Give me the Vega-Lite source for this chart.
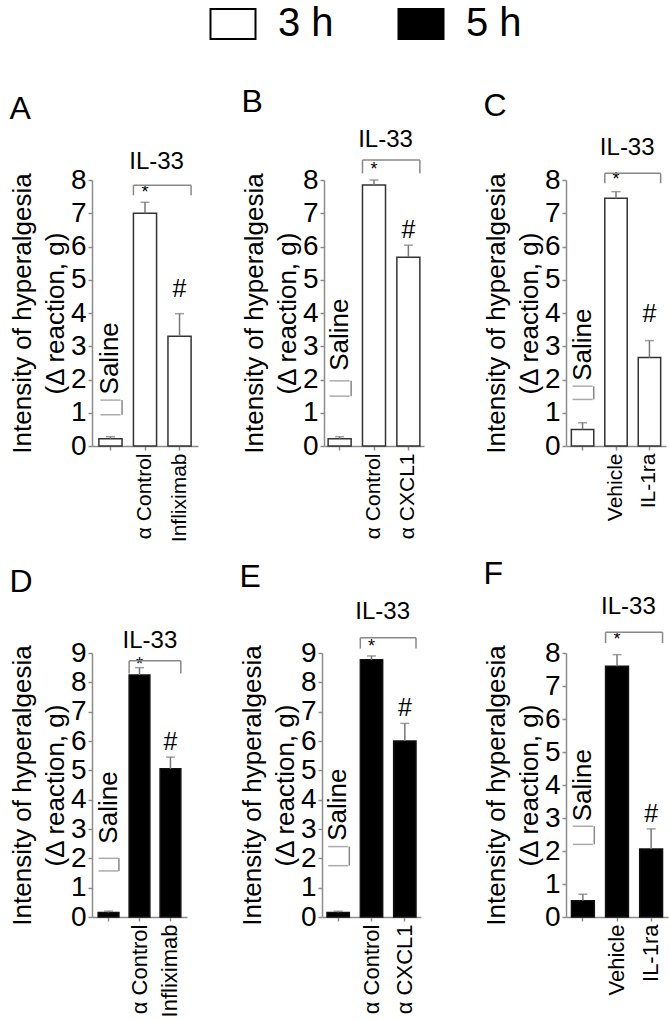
{
"$schema": "https://vega.github.io/schema/vega-lite/v6.json",
"padding": {"left": 9, "top": 4, "right": 5, "bottom": 5},
"datasets": {
"bars": [
{"panel": "A", "time": "3 h", "group": "Saline", "mean": 0.22, "upper": 0.28},
{"panel": "A", "time": "3 h", "group": "α Control", "mean": 7.0, "upper": 7.33},
{"panel": "A", "time": "3 h", "group": "Infliximab", "mean": 3.3, "upper": 3.98},
{"panel": "B", "time": "3 h", "group": "Saline", "mean": 0.22, "upper": 0.28},
{"panel": "B", "time": "3 h", "group": "α Control", "mean": 7.85, "upper": 8.0},
{"panel": "B", "time": "3 h", "group": "α CXCL1", "mean": 5.68, "upper": 6.04},
{"panel": "C", "time": "3 h", "group": "Saline", "mean": 0.5, "upper": 0.7},
{"panel": "C", "time": "3 h", "group": "Vehicle", "mean": 7.45, "upper": 7.65},
{"panel": "C", "time": "3 h", "group": "IL-1ra", "mean": 2.66, "upper": 3.17},
{"panel": "D", "time": "5 h", "group": "Saline", "mean": 0.15, "upper": 0.2},
{"panel": "D", "time": "5 h", "group": "α Control", "mean": 8.25, "upper": 8.5},
{"panel": "D", "time": "5 h", "group": "Infliximab", "mean": 5.05, "upper": 5.45},
{"panel": "E", "time": "5 h", "group": "Saline", "mean": 0.15, "upper": 0.2},
{"panel": "E", "time": "5 h", "group": "α Control", "mean": 8.77, "upper": 8.9},
{"panel": "E", "time": "5 h", "group": "α CXCL1", "mean": 6.0, "upper": 6.6},
{"panel": "F", "time": "5 h", "group": "Saline", "mean": 0.49, "upper": 0.69},
{"panel": "F", "time": "5 h", "group": "Vehicle", "mean": 7.6, "upper": 7.95},
{"panel": "F", "time": "5 h", "group": "IL-1ra", "mean": 2.06, "upper": 2.67}
],
"notes": [
{"panel": "A", "ctrl": "α Control", "trt": "Infliximab", "star": 7.6, "hash": 4.73, "top": 7.84, "bottom": 7.54, "label_y": 8.53},
{"panel": "B", "ctrl": "α Control", "trt": "α CXCL1", "star": 8.3, "hash": 6.5, "top": 8.6, "bottom": 8.2, "label_y": 9.2},
{"panel": "C", "ctrl": "Vehicle", "trt": "IL-1ra", "star": 8.0, "hash": 3.97, "top": 8.2, "bottom": 7.9, "label_y": 8.95},
{"panel": "D", "ctrl": "α Control", "trt": "Infliximab", "star": 8.6, "hash": 5.97, "top": 8.74, "bottom": 8.3, "label_y": 9.4},
{"panel": "E", "ctrl": "α Control", "trt": "α CXCL1", "star": 9.2, "hash": 7.12, "top": 9.52, "bottom": 9.15, "label_y": 10.4},
{"panel": "F", "ctrl": "Vehicle", "trt": "IL-1ra", "star": 8.4, "hash": 3.13, "top": 8.63, "bottom": 8.3, "label_y": 9.4}
],
"saline": [
{"panel": "A", "group": "Saline", "text_y": 1.55, "top": 1.38, "bottom": 0.94},
{"panel": "B", "group": "Saline", "text_y": 2.26, "top": 1.96, "bottom": 1.5},
{"panel": "C", "group": "Saline", "text_y": 1.96, "top": 1.8, "bottom": 1.4},
{"panel": "D", "group": "Saline", "text_y": 2.5, "top": 2.0, "bottom": 1.57},
{"panel": "E", "group": "Saline", "text_y": 2.6, "top": 2.4, "bottom": 1.75},
{"panel": "F", "group": "Saline", "text_y": 2.9, "top": 2.75, "bottom": 2.2}
]
},
"config": {
"font": "Liberation Sans",
"view": {"stroke": null},
"title": {"fontSize": 32, "fontWeight": "normal", "anchor": "start", "frame": "bounds", "color": "black"},
"axis": {"domainColor": "#8c8c8c", "domainWidth": 1.5, "tickColor": "#8c8c8c", "tickWidth": 1.5, "tickSize": 4, "labelColor": "black", "grid": false, "titleColor": "black"},
"axisY": {"labelFontSize": 28, "labelPadding": 2, "titleFontSize": 26, "titleFontWeight": "normal", "titleLineHeight": 33, "titlePadding": 2},
"axisX": {"labelAngle": 270, "labelFontSize": 22, "labelPadding": 3}
},
"spacing": 15,
"vconcat": [
{"spacing": 43, "hconcat": [
{"width": 106, "height": 266, "title": {"text": "A", "offset": 24}, "layer": [
{"data": {"name": "bars"}, "transform": [{"filter": "datum.panel == 'A'"}], "mark": {"type": "bar", "stroke": "#333", "strokeWidth": 1.5}, "encoding": {"x": {"field": "group", "type": "nominal", "scale": {"domain": ["Saline", "α Control", "Infliximab"], "paddingInner": 0.33, "paddingOuter": 0.2}, "axis": {"title": null, "labelFontSize": 21, "labelExpr": "datum.value == 'Saline' ? '' : datum.value"}}, "y": {"field": "mean", "type": "quantitative", "scale": {"domain": [0, 8], "nice": false}, "axis": {"title": ["Intensity of hyperalgesia", "(Δ reaction, g)"], "values": [0, 1, 2, 3, 4, 5, 6, 7, 8], "tickCount": 10, "labelOverlap": false}}, "fill": {"field": "time", "type": "nominal", "scale": {"domain": ["3 h", "5 h"], "range": ["white", "black"]}, "legend": {"title": null, "orient": "none", "direction": "horizontal", "legendX": 121, "legendY": -176, "symbolType": "M-1.5,-1L1.5,-1L1.5,1L-1.5,1Z", "symbolSize": 900, "symbolStrokeColor": "black", "symbolStrokeWidth": 2, "labelFontSize": 40, "labelOffset": 25, "columnPadding": 60, "labelColor": "black"}}}},
{"data": {"name": "bars"}, "transform": [{"filter": "datum.panel == 'A'"}], "mark": {"type": "rule", "color": "#777", "strokeWidth": 1.5}, "encoding": {"x": {"field": "group", "type": "nominal", "scale": {"domain": ["Saline", "α Control", "Infliximab"], "paddingInner": 0.33, "paddingOuter": 0.2}}, "y": {"field": "mean", "type": "quantitative", "scale": {"domain": [0, 8], "nice": false}}, "y2": {"field": "upper"}}},
{"data": {"name": "bars"}, "transform": [{"filter": "datum.panel == 'A'"}], "mark": {"type": "tick", "color": "#777", "thickness": 1.5, "size": 9}, "encoding": {"x": {"field": "group", "type": "nominal", "scale": {"domain": ["Saline", "α Control", "Infliximab"], "paddingInner": 0.33, "paddingOuter": 0.2}}, "y": {"field": "upper", "type": "quantitative", "scale": {"domain": [0, 8], "nice": false}}}},
{"data": {"name": "notes"}, "transform": [{"filter": "datum.panel == 'A'"}], "mark": {"type": "text", "fontSize": 18}, "encoding": {"x": {"field": "ctrl", "type": "nominal", "scale": {"domain": ["Saline", "α Control", "Infliximab"], "paddingInner": 0.33, "paddingOuter": 0.2}}, "y": {"field": "star", "type": "quantitative", "scale": {"domain": [0, 8], "nice": false}}, "text": {"value": "*"}}},
{"data": {"name": "notes"}, "transform": [{"filter": "datum.panel == 'A'"}], "mark": {"type": "text", "fontSize": 25}, "encoding": {"x": {"field": "trt", "type": "nominal", "scale": {"domain": ["Saline", "α Control", "Infliximab"], "paddingInner": 0.33, "paddingOuter": 0.2}}, "y": {"field": "hash", "type": "quantitative", "scale": {"domain": [0, 8], "nice": false}}, "text": {"value": "#"}}},
{"data": {"name": "notes"}, "transform": [{"filter": "datum.panel == 'A'"}], "mark": {"type": "text", "fontSize": 24}, "encoding": {"x": {"field": "ctrl", "type": "nominal", "bandPosition": 1, "scale": {"domain": ["Saline", "α Control", "Infliximab"], "paddingInner": 0.33, "paddingOuter": 0.2}}, "y": {"field": "label_y", "type": "quantitative", "scale": {"domain": [0, 8], "nice": false}}, "text": {"value": "IL-33"}}},
{"data": {"name": "notes"}, "transform": [{"filter": "datum.panel == 'A'"}], "mark": {"type": "rule", "color": "#888", "strokeWidth": 1.5}, "encoding": {"x": {"field": "ctrl", "type": "nominal", "bandPosition": 0, "scale": {"domain": ["Saline", "α Control", "Infliximab"], "paddingInner": 0.33, "paddingOuter": 0.2}}, "x2": {"field": "trt", "bandPosition": 1}, "y": {"field": "top", "type": "quantitative", "scale": {"domain": [0, 8], "nice": false}}}},
{"data": {"name": "notes"}, "transform": [{"filter": "datum.panel == 'A'"}], "mark": {"type": "rule", "color": "#888", "strokeWidth": 1.5}, "encoding": {"x": {"field": "ctrl", "type": "nominal", "bandPosition": 0, "scale": {"domain": ["Saline", "α Control", "Infliximab"], "paddingInner": 0.33, "paddingOuter": 0.2}}, "y": {"field": "top", "type": "quantitative", "scale": {"domain": [0, 8], "nice": false}}, "y2": {"field": "bottom"}}},
{"data": {"name": "notes"}, "transform": [{"filter": "datum.panel == 'A'"}], "mark": {"type": "rule", "color": "#888", "strokeWidth": 1.5}, "encoding": {"x": {"field": "trt", "type": "nominal", "bandPosition": 1, "scale": {"domain": ["Saline", "α Control", "Infliximab"], "paddingInner": 0.33, "paddingOuter": 0.2}}, "y": {"field": "top", "type": "quantitative", "scale": {"domain": [0, 8], "nice": false}}, "y2": {"field": "bottom"}}},
{"data": {"name": "saline"}, "transform": [{"filter": "datum.panel == 'A'"}], "mark": {"type": "text", "fontSize": 26, "angle": 270, "align": "left", "baseline": "middle"}, "encoding": {"x": {"field": "group", "type": "nominal", "scale": {"domain": ["Saline", "α Control", "Infliximab"], "paddingInner": 0.33, "paddingOuter": 0.2}}, "y": {"field": "text_y", "type": "quantitative", "scale": {"domain": [0, 8], "nice": false}}, "text": {"value": "Saline"}}},
{"data": {"name": "saline"}, "transform": [{"filter": "datum.panel == 'A'"}], "mark": {"type": "tick", "color": "#888", "thickness": 1.5, "size": 20}, "encoding": {"x": {"field": "group", "type": "nominal", "scale": {"domain": ["Saline", "α Control", "Infliximab"], "paddingInner": 0.33, "paddingOuter": 0.2}}, "y": {"field": "top", "type": "quantitative", "scale": {"domain": [0, 8], "nice": false}}}},
{"data": {"name": "saline"}, "transform": [{"filter": "datum.panel == 'A'"}], "mark": {"type": "tick", "color": "#888", "thickness": 1.5, "size": 20}, "encoding": {"x": {"field": "group", "type": "nominal", "scale": {"domain": ["Saline", "α Control", "Infliximab"], "paddingInner": 0.33, "paddingOuter": 0.2}}, "y": {"field": "bottom", "type": "quantitative", "scale": {"domain": [0, 8], "nice": false}}}},
{"data": {"name": "saline"}, "transform": [{"filter": "datum.panel == 'A'"}], "mark": {"type": "rule", "color": "#888", "strokeWidth": 1.5}, "encoding": {"x": {"field": "group", "type": "nominal", "bandPosition": 1, "scale": {"domain": ["Saline", "α Control", "Infliximab"], "paddingInner": 0.33, "paddingOuter": 0.2}}, "y": {"field": "top", "type": "quantitative", "scale": {"domain": [0, 8], "nice": false}}, "y2": {"field": "bottom"}}}
]},
{"spacing": 59, "hconcat": [
{"width": 100, "height": 266, "title": {"text": "B", "offset": 9}, "layer": [
{"data": {"name": "bars"}, "transform": [{"filter": "datum.panel == 'B'"}], "mark": {"type": "bar", "stroke": "#333", "strokeWidth": 1.5}, "encoding": {"x": {"field": "group", "type": "nominal", "scale": {"domain": ["Saline", "α Control", "α CXCL1"], "paddingInner": 0.33, "paddingOuter": 0.12}, "axis": {"title": null, "labelFontSize": 21, "labelExpr": "datum.value == 'Saline' ? '' : datum.value"}}, "y": {"field": "mean", "type": "quantitative", "scale": {"domain": [0, 8], "nice": false}, "axis": {"title": ["Intensity of hyperalgesia", "(Δ reaction, g)"], "values": [0, 1, 2, 3, 4, 5, 6, 7, 8], "tickCount": 10, "labelOverlap": false}}, "fill": {"field": "time", "type": "nominal", "scale": {"domain": ["3 h", "5 h"], "range": ["white", "black"]}, "legend": {"title": null, "orient": "none", "direction": "horizontal", "legendX": 121, "legendY": -176, "symbolType": "M-1.5,-1L1.5,-1L1.5,1L-1.5,1Z", "symbolSize": 900, "symbolStrokeColor": "black", "symbolStrokeWidth": 2, "labelFontSize": 40, "labelOffset": 25, "columnPadding": 60, "labelColor": "black"}}}},
{"data": {"name": "bars"}, "transform": [{"filter": "datum.panel == 'B'"}], "mark": {"type": "rule", "color": "#777", "strokeWidth": 1.5}, "encoding": {"x": {"field": "group", "type": "nominal", "scale": {"domain": ["Saline", "α Control", "α CXCL1"], "paddingInner": 0.33, "paddingOuter": 0.12}}, "y": {"field": "mean", "type": "quantitative", "scale": {"domain": [0, 8], "nice": false}}, "y2": {"field": "upper"}}},
{"data": {"name": "bars"}, "transform": [{"filter": "datum.panel == 'B'"}], "mark": {"type": "tick", "color": "#777", "thickness": 1.5, "size": 9}, "encoding": {"x": {"field": "group", "type": "nominal", "scale": {"domain": ["Saline", "α Control", "α CXCL1"], "paddingInner": 0.33, "paddingOuter": 0.12}}, "y": {"field": "upper", "type": "quantitative", "scale": {"domain": [0, 8], "nice": false}}}},
{"data": {"name": "notes"}, "transform": [{"filter": "datum.panel == 'B'"}], "mark": {"type": "text", "fontSize": 18}, "encoding": {"x": {"field": "ctrl", "type": "nominal", "scale": {"domain": ["Saline", "α Control", "α CXCL1"], "paddingInner": 0.33, "paddingOuter": 0.12}}, "y": {"field": "star", "type": "quantitative", "scale": {"domain": [0, 8], "nice": false}}, "text": {"value": "*"}}},
{"data": {"name": "notes"}, "transform": [{"filter": "datum.panel == 'B'"}], "mark": {"type": "text", "fontSize": 25}, "encoding": {"x": {"field": "trt", "type": "nominal", "scale": {"domain": ["Saline", "α Control", "α CXCL1"], "paddingInner": 0.33, "paddingOuter": 0.12}}, "y": {"field": "hash", "type": "quantitative", "scale": {"domain": [0, 8], "nice": false}}, "text": {"value": "#"}}},
{"data": {"name": "notes"}, "transform": [{"filter": "datum.panel == 'B'"}], "mark": {"type": "text", "fontSize": 24}, "encoding": {"x": {"field": "ctrl", "type": "nominal", "bandPosition": 1, "scale": {"domain": ["Saline", "α Control", "α CXCL1"], "paddingInner": 0.33, "paddingOuter": 0.12}}, "y": {"field": "label_y", "type": "quantitative", "scale": {"domain": [0, 8], "nice": false}}, "text": {"value": "IL-33"}}},
{"data": {"name": "notes"}, "transform": [{"filter": "datum.panel == 'B'"}], "mark": {"type": "rule", "color": "#888", "strokeWidth": 1.5}, "encoding": {"x": {"field": "ctrl", "type": "nominal", "bandPosition": 0, "scale": {"domain": ["Saline", "α Control", "α CXCL1"], "paddingInner": 0.33, "paddingOuter": 0.12}}, "x2": {"field": "trt", "bandPosition": 1}, "y": {"field": "top", "type": "quantitative", "scale": {"domain": [0, 8], "nice": false}}}},
{"data": {"name": "notes"}, "transform": [{"filter": "datum.panel == 'B'"}], "mark": {"type": "rule", "color": "#888", "strokeWidth": 1.5}, "encoding": {"x": {"field": "ctrl", "type": "nominal", "bandPosition": 0, "scale": {"domain": ["Saline", "α Control", "α CXCL1"], "paddingInner": 0.33, "paddingOuter": 0.12}}, "y": {"field": "top", "type": "quantitative", "scale": {"domain": [0, 8], "nice": false}}, "y2": {"field": "bottom"}}},
{"data": {"name": "notes"}, "transform": [{"filter": "datum.panel == 'B'"}], "mark": {"type": "rule", "color": "#888", "strokeWidth": 1.5}, "encoding": {"x": {"field": "trt", "type": "nominal", "bandPosition": 1, "scale": {"domain": ["Saline", "α Control", "α CXCL1"], "paddingInner": 0.33, "paddingOuter": 0.12}}, "y": {"field": "top", "type": "quantitative", "scale": {"domain": [0, 8], "nice": false}}, "y2": {"field": "bottom"}}},
{"data": {"name": "saline"}, "transform": [{"filter": "datum.panel == 'B'"}], "mark": {"type": "text", "fontSize": 26, "angle": 270, "align": "left", "baseline": "middle"}, "encoding": {"x": {"field": "group", "type": "nominal", "scale": {"domain": ["Saline", "α Control", "α CXCL1"], "paddingInner": 0.33, "paddingOuter": 0.12}}, "y": {"field": "text_y", "type": "quantitative", "scale": {"domain": [0, 8], "nice": false}}, "text": {"value": "Saline"}}},
{"data": {"name": "saline"}, "transform": [{"filter": "datum.panel == 'B'"}], "mark": {"type": "tick", "color": "#888", "thickness": 1.5, "size": 20}, "encoding": {"x": {"field": "group", "type": "nominal", "scale": {"domain": ["Saline", "α Control", "α CXCL1"], "paddingInner": 0.33, "paddingOuter": 0.12}}, "y": {"field": "top", "type": "quantitative", "scale": {"domain": [0, 8], "nice": false}}}},
{"data": {"name": "saline"}, "transform": [{"filter": "datum.panel == 'B'"}], "mark": {"type": "tick", "color": "#888", "thickness": 1.5, "size": 20}, "encoding": {"x": {"field": "group", "type": "nominal", "scale": {"domain": ["Saline", "α Control", "α CXCL1"], "paddingInner": 0.33, "paddingOuter": 0.12}}, "y": {"field": "bottom", "type": "quantitative", "scale": {"domain": [0, 8], "nice": false}}}},
{"data": {"name": "saline"}, "transform": [{"filter": "datum.panel == 'B'"}], "mark": {"type": "rule", "color": "#888", "strokeWidth": 1.5}, "encoding": {"x": {"field": "group", "type": "nominal", "bandPosition": 1, "scale": {"domain": ["Saline", "α Control", "α CXCL1"], "paddingInner": 0.33, "paddingOuter": 0.12}}, "y": {"field": "top", "type": "quantitative", "scale": {"domain": [0, 8], "nice": false}}, "y2": {"field": "bottom"}}}
]},
{"width": 100, "height": 266, "title": {"text": "C", "offset": 13}, "layer": [
{"data": {"name": "bars"}, "transform": [{"filter": "datum.panel == 'C'"}], "mark": {"type": "bar", "stroke": "#333", "strokeWidth": 1.5}, "encoding": {"x": {"field": "group", "type": "nominal", "scale": {"domain": ["Saline", "Vehicle", "IL-1ra"], "paddingInner": 0.33, "paddingOuter": 0.16}, "axis": {"title": null, "labelFontSize": 21, "labelExpr": "datum.value == 'Saline' ? '' : datum.value"}}, "y": {"field": "mean", "type": "quantitative", "scale": {"domain": [0, 8], "nice": false}, "axis": {"title": ["Intensity of hyperalgesia", "(Δ reaction, g)"], "values": [0, 1, 2, 3, 4, 5, 6, 7, 8], "tickCount": 10, "labelOverlap": false}}, "fill": {"field": "time", "type": "nominal", "scale": {"domain": ["3 h", "5 h"], "range": ["white", "black"]}, "legend": {"title": null, "orient": "none", "direction": "horizontal", "legendX": 121, "legendY": -176, "symbolType": "M-1.5,-1L1.5,-1L1.5,1L-1.5,1Z", "symbolSize": 900, "symbolStrokeColor": "black", "symbolStrokeWidth": 2, "labelFontSize": 40, "labelOffset": 25, "columnPadding": 60, "labelColor": "black"}}}},
{"data": {"name": "bars"}, "transform": [{"filter": "datum.panel == 'C'"}], "mark": {"type": "rule", "color": "#777", "strokeWidth": 1.5}, "encoding": {"x": {"field": "group", "type": "nominal", "scale": {"domain": ["Saline", "Vehicle", "IL-1ra"], "paddingInner": 0.33, "paddingOuter": 0.16}}, "y": {"field": "mean", "type": "quantitative", "scale": {"domain": [0, 8], "nice": false}}, "y2": {"field": "upper"}}},
{"data": {"name": "bars"}, "transform": [{"filter": "datum.panel == 'C'"}], "mark": {"type": "tick", "color": "#777", "thickness": 1.5, "size": 9}, "encoding": {"x": {"field": "group", "type": "nominal", "scale": {"domain": ["Saline", "Vehicle", "IL-1ra"], "paddingInner": 0.33, "paddingOuter": 0.16}}, "y": {"field": "upper", "type": "quantitative", "scale": {"domain": [0, 8], "nice": false}}}},
{"data": {"name": "notes"}, "transform": [{"filter": "datum.panel == 'C'"}], "mark": {"type": "text", "fontSize": 18}, "encoding": {"x": {"field": "ctrl", "type": "nominal", "scale": {"domain": ["Saline", "Vehicle", "IL-1ra"], "paddingInner": 0.33, "paddingOuter": 0.16}}, "y": {"field": "star", "type": "quantitative", "scale": {"domain": [0, 8], "nice": false}}, "text": {"value": "*"}}},
{"data": {"name": "notes"}, "transform": [{"filter": "datum.panel == 'C'"}], "mark": {"type": "text", "fontSize": 25}, "encoding": {"x": {"field": "trt", "type": "nominal", "scale": {"domain": ["Saline", "Vehicle", "IL-1ra"], "paddingInner": 0.33, "paddingOuter": 0.16}}, "y": {"field": "hash", "type": "quantitative", "scale": {"domain": [0, 8], "nice": false}}, "text": {"value": "#"}}},
{"data": {"name": "notes"}, "transform": [{"filter": "datum.panel == 'C'"}], "mark": {"type": "text", "fontSize": 24}, "encoding": {"x": {"field": "ctrl", "type": "nominal", "bandPosition": 1, "scale": {"domain": ["Saline", "Vehicle", "IL-1ra"], "paddingInner": 0.33, "paddingOuter": 0.16}}, "y": {"field": "label_y", "type": "quantitative", "scale": {"domain": [0, 8], "nice": false}}, "text": {"value": "IL-33"}}},
{"data": {"name": "notes"}, "transform": [{"filter": "datum.panel == 'C'"}], "mark": {"type": "rule", "color": "#888", "strokeWidth": 1.5}, "encoding": {"x": {"field": "ctrl", "type": "nominal", "bandPosition": 0, "scale": {"domain": ["Saline", "Vehicle", "IL-1ra"], "paddingInner": 0.33, "paddingOuter": 0.16}}, "x2": {"field": "trt", "bandPosition": 1}, "y": {"field": "top", "type": "quantitative", "scale": {"domain": [0, 8], "nice": false}}}},
{"data": {"name": "notes"}, "transform": [{"filter": "datum.panel == 'C'"}], "mark": {"type": "rule", "color": "#888", "strokeWidth": 1.5}, "encoding": {"x": {"field": "ctrl", "type": "nominal", "bandPosition": 0, "scale": {"domain": ["Saline", "Vehicle", "IL-1ra"], "paddingInner": 0.33, "paddingOuter": 0.16}}, "y": {"field": "top", "type": "quantitative", "scale": {"domain": [0, 8], "nice": false}}, "y2": {"field": "bottom"}}},
{"data": {"name": "notes"}, "transform": [{"filter": "datum.panel == 'C'"}], "mark": {"type": "rule", "color": "#888", "strokeWidth": 1.5}, "encoding": {"x": {"field": "trt", "type": "nominal", "bandPosition": 1, "scale": {"domain": ["Saline", "Vehicle", "IL-1ra"], "paddingInner": 0.33, "paddingOuter": 0.16}}, "y": {"field": "top", "type": "quantitative", "scale": {"domain": [0, 8], "nice": false}}, "y2": {"field": "bottom"}}},
{"data": {"name": "saline"}, "transform": [{"filter": "datum.panel == 'C'"}], "mark": {"type": "text", "fontSize": 26, "angle": 270, "align": "left", "baseline": "middle"}, "encoding": {"x": {"field": "group", "type": "nominal", "scale": {"domain": ["Saline", "Vehicle", "IL-1ra"], "paddingInner": 0.33, "paddingOuter": 0.16}}, "y": {"field": "text_y", "type": "quantitative", "scale": {"domain": [0, 8], "nice": false}}, "text": {"value": "Saline"}}},
{"data": {"name": "saline"}, "transform": [{"filter": "datum.panel == 'C'"}], "mark": {"type": "tick", "color": "#888", "thickness": 1.5, "size": 20}, "encoding": {"x": {"field": "group", "type": "nominal", "scale": {"domain": ["Saline", "Vehicle", "IL-1ra"], "paddingInner": 0.33, "paddingOuter": 0.16}}, "y": {"field": "top", "type": "quantitative", "scale": {"domain": [0, 8], "nice": false}}}},
{"data": {"name": "saline"}, "transform": [{"filter": "datum.panel == 'C'"}], "mark": {"type": "tick", "color": "#888", "thickness": 1.5, "size": 20}, "encoding": {"x": {"field": "group", "type": "nominal", "scale": {"domain": ["Saline", "Vehicle", "IL-1ra"], "paddingInner": 0.33, "paddingOuter": 0.16}}, "y": {"field": "bottom", "type": "quantitative", "scale": {"domain": [0, 8], "nice": false}}}},
{"data": {"name": "saline"}, "transform": [{"filter": "datum.panel == 'C'"}], "mark": {"type": "rule", "color": "#888", "strokeWidth": 1.5}, "encoding": {"x": {"field": "group", "type": "nominal", "bandPosition": 1, "scale": {"domain": ["Saline", "Vehicle", "IL-1ra"], "paddingInner": 0.33, "paddingOuter": 0.16}}, "y": {"field": "top", "type": "quantitative", "scale": {"domain": [0, 8], "nice": false}}, "y2": {"field": "bottom"}}}
]}
]}
]},
{"spacing": 52, "hconcat": [
{"width": 95, "height": 264, "title": {"text": "D", "offset": 30}, "layer": [
{"data": {"name": "bars"}, "transform": [{"filter": "datum.panel == 'D'"}], "mark": {"type": "bar", "stroke": "#111", "strokeWidth": 1.5}, "encoding": {"x": {"field": "group", "type": "nominal", "scale": {"domain": ["Saline", "α Control", "Infliximab"], "paddingInner": 0.33, "paddingOuter": 0.2}, "axis": {"title": null, "labelExpr": "datum.value == 'Saline' ? '' : datum.value"}}, "y": {"field": "mean", "type": "quantitative", "scale": {"domain": [0, 9], "nice": false}, "axis": {"title": ["Intensity of hyperalgesia", "(Δ reaction, g)"], "values": [0, 1, 2, 3, 4, 5, 6, 7, 8, 9], "tickCount": 11, "labelOverlap": false}}, "fill": {"field": "time", "type": "nominal", "scale": {"domain": ["3 h", "5 h"], "range": ["white", "black"]}, "legend": {"title": null, "orient": "none", "direction": "horizontal", "legendX": 121, "legendY": -176, "symbolType": "M-1.5,-1L1.5,-1L1.5,1L-1.5,1Z", "symbolSize": 900, "symbolStrokeColor": "black", "symbolStrokeWidth": 2, "labelFontSize": 40, "labelOffset": 25, "columnPadding": 60, "labelColor": "black"}}}},
{"data": {"name": "bars"}, "transform": [{"filter": "datum.panel == 'D'"}], "mark": {"type": "rule", "color": "#777", "strokeWidth": 1.5}, "encoding": {"x": {"field": "group", "type": "nominal", "scale": {"domain": ["Saline", "α Control", "Infliximab"], "paddingInner": 0.33, "paddingOuter": 0.2}}, "y": {"field": "mean", "type": "quantitative", "scale": {"domain": [0, 9], "nice": false}}, "y2": {"field": "upper"}}},
{"data": {"name": "bars"}, "transform": [{"filter": "datum.panel == 'D'"}], "mark": {"type": "tick", "color": "#777", "thickness": 1.5, "size": 9}, "encoding": {"x": {"field": "group", "type": "nominal", "scale": {"domain": ["Saline", "α Control", "Infliximab"], "paddingInner": 0.33, "paddingOuter": 0.2}}, "y": {"field": "upper", "type": "quantitative", "scale": {"domain": [0, 9], "nice": false}}}},
{"data": {"name": "notes"}, "transform": [{"filter": "datum.panel == 'D'"}], "mark": {"type": "text", "fontSize": 18}, "encoding": {"x": {"field": "ctrl", "type": "nominal", "scale": {"domain": ["Saline", "α Control", "Infliximab"], "paddingInner": 0.33, "paddingOuter": 0.2}}, "y": {"field": "star", "type": "quantitative", "scale": {"domain": [0, 9], "nice": false}}, "text": {"value": "*"}}},
{"data": {"name": "notes"}, "transform": [{"filter": "datum.panel == 'D'"}], "mark": {"type": "text", "fontSize": 25}, "encoding": {"x": {"field": "trt", "type": "nominal", "scale": {"domain": ["Saline", "α Control", "Infliximab"], "paddingInner": 0.33, "paddingOuter": 0.2}}, "y": {"field": "hash", "type": "quantitative", "scale": {"domain": [0, 9], "nice": false}}, "text": {"value": "#"}}},
{"data": {"name": "notes"}, "transform": [{"filter": "datum.panel == 'D'"}], "mark": {"type": "text", "fontSize": 24}, "encoding": {"x": {"field": "ctrl", "type": "nominal", "bandPosition": 1, "scale": {"domain": ["Saline", "α Control", "Infliximab"], "paddingInner": 0.33, "paddingOuter": 0.2}}, "y": {"field": "label_y", "type": "quantitative", "scale": {"domain": [0, 9], "nice": false}}, "text": {"value": "IL-33"}}},
{"data": {"name": "notes"}, "transform": [{"filter": "datum.panel == 'D'"}], "mark": {"type": "rule", "color": "#888", "strokeWidth": 1.5}, "encoding": {"x": {"field": "ctrl", "type": "nominal", "bandPosition": 0, "scale": {"domain": ["Saline", "α Control", "Infliximab"], "paddingInner": 0.33, "paddingOuter": 0.2}}, "x2": {"field": "trt", "bandPosition": 1}, "y": {"field": "top", "type": "quantitative", "scale": {"domain": [0, 9], "nice": false}}}},
{"data": {"name": "notes"}, "transform": [{"filter": "datum.panel == 'D'"}], "mark": {"type": "rule", "color": "#888", "strokeWidth": 1.5}, "encoding": {"x": {"field": "ctrl", "type": "nominal", "bandPosition": 0, "scale": {"domain": ["Saline", "α Control", "Infliximab"], "paddingInner": 0.33, "paddingOuter": 0.2}}, "y": {"field": "top", "type": "quantitative", "scale": {"domain": [0, 9], "nice": false}}, "y2": {"field": "bottom"}}},
{"data": {"name": "notes"}, "transform": [{"filter": "datum.panel == 'D'"}], "mark": {"type": "rule", "color": "#888", "strokeWidth": 1.5}, "encoding": {"x": {"field": "trt", "type": "nominal", "bandPosition": 1, "scale": {"domain": ["Saline", "α Control", "Infliximab"], "paddingInner": 0.33, "paddingOuter": 0.2}}, "y": {"field": "top", "type": "quantitative", "scale": {"domain": [0, 9], "nice": false}}, "y2": {"field": "bottom"}}},
{"data": {"name": "saline"}, "transform": [{"filter": "datum.panel == 'D'"}], "mark": {"type": "text", "fontSize": 26, "angle": 270, "align": "left", "baseline": "middle"}, "encoding": {"x": {"field": "group", "type": "nominal", "scale": {"domain": ["Saline", "α Control", "Infliximab"], "paddingInner": 0.33, "paddingOuter": 0.2}}, "y": {"field": "text_y", "type": "quantitative", "scale": {"domain": [0, 9], "nice": false}}, "text": {"value": "Saline"}}},
{"data": {"name": "saline"}, "transform": [{"filter": "datum.panel == 'D'"}], "mark": {"type": "tick", "color": "#888", "thickness": 1.5, "size": 20}, "encoding": {"x": {"field": "group", "type": "nominal", "scale": {"domain": ["Saline", "α Control", "Infliximab"], "paddingInner": 0.33, "paddingOuter": 0.2}}, "y": {"field": "top", "type": "quantitative", "scale": {"domain": [0, 9], "nice": false}}}},
{"data": {"name": "saline"}, "transform": [{"filter": "datum.panel == 'D'"}], "mark": {"type": "tick", "color": "#888", "thickness": 1.5, "size": 20}, "encoding": {"x": {"field": "group", "type": "nominal", "scale": {"domain": ["Saline", "α Control", "Infliximab"], "paddingInner": 0.33, "paddingOuter": 0.2}}, "y": {"field": "bottom", "type": "quantitative", "scale": {"domain": [0, 9], "nice": false}}}},
{"data": {"name": "saline"}, "transform": [{"filter": "datum.panel == 'D'"}], "mark": {"type": "rule", "color": "#888", "strokeWidth": 1.5}, "encoding": {"x": {"field": "group", "type": "nominal", "bandPosition": 1, "scale": {"domain": ["Saline", "α Control", "Infliximab"], "paddingInner": 0.33, "paddingOuter": 0.2}}, "y": {"field": "top", "type": "quantitative", "scale": {"domain": [0, 9], "nice": false}}, "y2": {"field": "bottom"}}}
]},
{"spacing": 62, "hconcat": [
{"width": 99, "height": 264, "title": {"text": "E", "offset": 6}, "layer": [
{"data": {"name": "bars"}, "transform": [{"filter": "datum.panel == 'E'"}], "mark": {"type": "bar", "stroke": "#111", "strokeWidth": 1.5}, "encoding": {"x": {"field": "group", "type": "nominal", "scale": {"domain": ["Saline", "α Control", "α CXCL1"], "paddingInner": 0.33, "paddingOuter": 0.15}, "axis": {"title": null, "labelExpr": "datum.value == 'Saline' ? '' : datum.value"}}, "y": {"field": "mean", "type": "quantitative", "scale": {"domain": [0, 9], "nice": false}, "axis": {"title": ["Intensity of hyperalgesia", "(Δ reaction, g)"], "values": [0, 1, 2, 3, 4, 5, 6, 7, 8, 9], "tickCount": 11, "labelOverlap": false}}, "fill": {"field": "time", "type": "nominal", "scale": {"domain": ["3 h", "5 h"], "range": ["white", "black"]}, "legend": {"title": null, "orient": "none", "direction": "horizontal", "legendX": 121, "legendY": -176, "symbolType": "M-1.5,-1L1.5,-1L1.5,1L-1.5,1Z", "symbolSize": 900, "symbolStrokeColor": "black", "symbolStrokeWidth": 2, "labelFontSize": 40, "labelOffset": 25, "columnPadding": 60, "labelColor": "black"}}}},
{"data": {"name": "bars"}, "transform": [{"filter": "datum.panel == 'E'"}], "mark": {"type": "rule", "color": "#777", "strokeWidth": 1.5}, "encoding": {"x": {"field": "group", "type": "nominal", "scale": {"domain": ["Saline", "α Control", "α CXCL1"], "paddingInner": 0.33, "paddingOuter": 0.15}}, "y": {"field": "mean", "type": "quantitative", "scale": {"domain": [0, 9], "nice": false}}, "y2": {"field": "upper"}}},
{"data": {"name": "bars"}, "transform": [{"filter": "datum.panel == 'E'"}], "mark": {"type": "tick", "color": "#777", "thickness": 1.5, "size": 9}, "encoding": {"x": {"field": "group", "type": "nominal", "scale": {"domain": ["Saline", "α Control", "α CXCL1"], "paddingInner": 0.33, "paddingOuter": 0.15}}, "y": {"field": "upper", "type": "quantitative", "scale": {"domain": [0, 9], "nice": false}}}},
{"data": {"name": "notes"}, "transform": [{"filter": "datum.panel == 'E'"}], "mark": {"type": "text", "fontSize": 18}, "encoding": {"x": {"field": "ctrl", "type": "nominal", "scale": {"domain": ["Saline", "α Control", "α CXCL1"], "paddingInner": 0.33, "paddingOuter": 0.15}}, "y": {"field": "star", "type": "quantitative", "scale": {"domain": [0, 9], "nice": false}}, "text": {"value": "*"}}},
{"data": {"name": "notes"}, "transform": [{"filter": "datum.panel == 'E'"}], "mark": {"type": "text", "fontSize": 25}, "encoding": {"x": {"field": "trt", "type": "nominal", "scale": {"domain": ["Saline", "α Control", "α CXCL1"], "paddingInner": 0.33, "paddingOuter": 0.15}}, "y": {"field": "hash", "type": "quantitative", "scale": {"domain": [0, 9], "nice": false}}, "text": {"value": "#"}}},
{"data": {"name": "notes"}, "transform": [{"filter": "datum.panel == 'E'"}], "mark": {"type": "text", "fontSize": 24}, "encoding": {"x": {"field": "ctrl", "type": "nominal", "bandPosition": 1, "scale": {"domain": ["Saline", "α Control", "α CXCL1"], "paddingInner": 0.33, "paddingOuter": 0.15}}, "y": {"field": "label_y", "type": "quantitative", "scale": {"domain": [0, 9], "nice": false}}, "text": {"value": "IL-33"}}},
{"data": {"name": "notes"}, "transform": [{"filter": "datum.panel == 'E'"}], "mark": {"type": "rule", "color": "#888", "strokeWidth": 1.5}, "encoding": {"x": {"field": "ctrl", "type": "nominal", "bandPosition": 0, "scale": {"domain": ["Saline", "α Control", "α CXCL1"], "paddingInner": 0.33, "paddingOuter": 0.15}}, "x2": {"field": "trt", "bandPosition": 1}, "y": {"field": "top", "type": "quantitative", "scale": {"domain": [0, 9], "nice": false}}}},
{"data": {"name": "notes"}, "transform": [{"filter": "datum.panel == 'E'"}], "mark": {"type": "rule", "color": "#888", "strokeWidth": 1.5}, "encoding": {"x": {"field": "ctrl", "type": "nominal", "bandPosition": 0, "scale": {"domain": ["Saline", "α Control", "α CXCL1"], "paddingInner": 0.33, "paddingOuter": 0.15}}, "y": {"field": "top", "type": "quantitative", "scale": {"domain": [0, 9], "nice": false}}, "y2": {"field": "bottom"}}},
{"data": {"name": "notes"}, "transform": [{"filter": "datum.panel == 'E'"}], "mark": {"type": "rule", "color": "#888", "strokeWidth": 1.5}, "encoding": {"x": {"field": "trt", "type": "nominal", "bandPosition": 1, "scale": {"domain": ["Saline", "α Control", "α CXCL1"], "paddingInner": 0.33, "paddingOuter": 0.15}}, "y": {"field": "top", "type": "quantitative", "scale": {"domain": [0, 9], "nice": false}}, "y2": {"field": "bottom"}}},
{"data": {"name": "saline"}, "transform": [{"filter": "datum.panel == 'E'"}], "mark": {"type": "text", "fontSize": 26, "angle": 270, "align": "left", "baseline": "middle"}, "encoding": {"x": {"field": "group", "type": "nominal", "scale": {"domain": ["Saline", "α Control", "α CXCL1"], "paddingInner": 0.33, "paddingOuter": 0.15}}, "y": {"field": "text_y", "type": "quantitative", "scale": {"domain": [0, 9], "nice": false}}, "text": {"value": "Saline"}}},
{"data": {"name": "saline"}, "transform": [{"filter": "datum.panel == 'E'"}], "mark": {"type": "tick", "color": "#888", "thickness": 1.5, "size": 20}, "encoding": {"x": {"field": "group", "type": "nominal", "scale": {"domain": ["Saline", "α Control", "α CXCL1"], "paddingInner": 0.33, "paddingOuter": 0.15}}, "y": {"field": "top", "type": "quantitative", "scale": {"domain": [0, 9], "nice": false}}}},
{"data": {"name": "saline"}, "transform": [{"filter": "datum.panel == 'E'"}], "mark": {"type": "tick", "color": "#888", "thickness": 1.5, "size": 20}, "encoding": {"x": {"field": "group", "type": "nominal", "scale": {"domain": ["Saline", "α Control", "α CXCL1"], "paddingInner": 0.33, "paddingOuter": 0.15}}, "y": {"field": "bottom", "type": "quantitative", "scale": {"domain": [0, 9], "nice": false}}}},
{"data": {"name": "saline"}, "transform": [{"filter": "datum.panel == 'E'"}], "mark": {"type": "rule", "color": "#888", "strokeWidth": 1.5}, "encoding": {"x": {"field": "group", "type": "nominal", "bandPosition": 1, "scale": {"domain": ["Saline", "α Control", "α CXCL1"], "paddingInner": 0.33, "paddingOuter": 0.15}}, "y": {"field": "top", "type": "quantitative", "scale": {"domain": [0, 9], "nice": false}}, "y2": {"field": "bottom"}}}
]},
{"width": 102, "height": 264, "title": {"text": "F", "offset": 4}, "layer": [
{"data": {"name": "bars"}, "transform": [{"filter": "datum.panel == 'F'"}], "mark": {"type": "bar", "stroke": "#111", "strokeWidth": 1.5}, "encoding": {"x": {"field": "group", "type": "nominal", "scale": {"domain": ["Saline", "Vehicle", "IL-1ra"], "paddingInner": 0.33, "paddingOuter": 0.16}, "axis": {"title": null, "labelExpr": "datum.value == 'Saline' ? '' : datum.value"}}, "y": {"field": "mean", "type": "quantitative", "scale": {"domain": [0, 8], "nice": false}, "axis": {"title": ["Intensity of hyperalgesia", "(Δ reaction, g)"], "values": [0, 1, 2, 3, 4, 5, 6, 7, 8], "tickCount": 10, "labelOverlap": false}}, "fill": {"field": "time", "type": "nominal", "scale": {"domain": ["3 h", "5 h"], "range": ["white", "black"]}, "legend": {"title": null, "orient": "none", "direction": "horizontal", "legendX": 121, "legendY": -176, "symbolType": "M-1.5,-1L1.5,-1L1.5,1L-1.5,1Z", "symbolSize": 900, "symbolStrokeColor": "black", "symbolStrokeWidth": 2, "labelFontSize": 40, "labelOffset": 25, "columnPadding": 60, "labelColor": "black"}}}},
{"data": {"name": "bars"}, "transform": [{"filter": "datum.panel == 'F'"}], "mark": {"type": "rule", "color": "#777", "strokeWidth": 1.5}, "encoding": {"x": {"field": "group", "type": "nominal", "scale": {"domain": ["Saline", "Vehicle", "IL-1ra"], "paddingInner": 0.33, "paddingOuter": 0.16}}, "y": {"field": "mean", "type": "quantitative", "scale": {"domain": [0, 8], "nice": false}}, "y2": {"field": "upper"}}},
{"data": {"name": "bars"}, "transform": [{"filter": "datum.panel == 'F'"}], "mark": {"type": "tick", "color": "#777", "thickness": 1.5, "size": 9}, "encoding": {"x": {"field": "group", "type": "nominal", "scale": {"domain": ["Saline", "Vehicle", "IL-1ra"], "paddingInner": 0.33, "paddingOuter": 0.16}}, "y": {"field": "upper", "type": "quantitative", "scale": {"domain": [0, 8], "nice": false}}}},
{"data": {"name": "notes"}, "transform": [{"filter": "datum.panel == 'F'"}], "mark": {"type": "text", "fontSize": 18}, "encoding": {"x": {"field": "ctrl", "type": "nominal", "scale": {"domain": ["Saline", "Vehicle", "IL-1ra"], "paddingInner": 0.33, "paddingOuter": 0.16}}, "y": {"field": "star", "type": "quantitative", "scale": {"domain": [0, 8], "nice": false}}, "text": {"value": "*"}}},
{"data": {"name": "notes"}, "transform": [{"filter": "datum.panel == 'F'"}], "mark": {"type": "text", "fontSize": 25}, "encoding": {"x": {"field": "trt", "type": "nominal", "scale": {"domain": ["Saline", "Vehicle", "IL-1ra"], "paddingInner": 0.33, "paddingOuter": 0.16}}, "y": {"field": "hash", "type": "quantitative", "scale": {"domain": [0, 8], "nice": false}}, "text": {"value": "#"}}},
{"data": {"name": "notes"}, "transform": [{"filter": "datum.panel == 'F'"}], "mark": {"type": "text", "fontSize": 24}, "encoding": {"x": {"field": "ctrl", "type": "nominal", "bandPosition": 1, "scale": {"domain": ["Saline", "Vehicle", "IL-1ra"], "paddingInner": 0.33, "paddingOuter": 0.16}}, "y": {"field": "label_y", "type": "quantitative", "scale": {"domain": [0, 8], "nice": false}}, "text": {"value": "IL-33"}}},
{"data": {"name": "notes"}, "transform": [{"filter": "datum.panel == 'F'"}], "mark": {"type": "rule", "color": "#888", "strokeWidth": 1.5}, "encoding": {"x": {"field": "ctrl", "type": "nominal", "bandPosition": 0, "scale": {"domain": ["Saline", "Vehicle", "IL-1ra"], "paddingInner": 0.33, "paddingOuter": 0.16}}, "x2": {"field": "trt", "bandPosition": 1}, "y": {"field": "top", "type": "quantitative", "scale": {"domain": [0, 8], "nice": false}}}},
{"data": {"name": "notes"}, "transform": [{"filter": "datum.panel == 'F'"}], "mark": {"type": "rule", "color": "#888", "strokeWidth": 1.5}, "encoding": {"x": {"field": "ctrl", "type": "nominal", "bandPosition": 0, "scale": {"domain": ["Saline", "Vehicle", "IL-1ra"], "paddingInner": 0.33, "paddingOuter": 0.16}}, "y": {"field": "top", "type": "quantitative", "scale": {"domain": [0, 8], "nice": false}}, "y2": {"field": "bottom"}}},
{"data": {"name": "notes"}, "transform": [{"filter": "datum.panel == 'F'"}], "mark": {"type": "rule", "color": "#888", "strokeWidth": 1.5}, "encoding": {"x": {"field": "trt", "type": "nominal", "bandPosition": 1, "scale": {"domain": ["Saline", "Vehicle", "IL-1ra"], "paddingInner": 0.33, "paddingOuter": 0.16}}, "y": {"field": "top", "type": "quantitative", "scale": {"domain": [0, 8], "nice": false}}, "y2": {"field": "bottom"}}},
{"data": {"name": "saline"}, "transform": [{"filter": "datum.panel == 'F'"}], "mark": {"type": "text", "fontSize": 26, "angle": 270, "align": "left", "baseline": "middle"}, "encoding": {"x": {"field": "group", "type": "nominal", "scale": {"domain": ["Saline", "Vehicle", "IL-1ra"], "paddingInner": 0.33, "paddingOuter": 0.16}}, "y": {"field": "text_y", "type": "quantitative", "scale": {"domain": [0, 8], "nice": false}}, "text": {"value": "Saline"}}},
{"data": {"name": "saline"}, "transform": [{"filter": "datum.panel == 'F'"}], "mark": {"type": "tick", "color": "#888", "thickness": 1.5, "size": 20}, "encoding": {"x": {"field": "group", "type": "nominal", "scale": {"domain": ["Saline", "Vehicle", "IL-1ra"], "paddingInner": 0.33, "paddingOuter": 0.16}}, "y": {"field": "top", "type": "quantitative", "scale": {"domain": [0, 8], "nice": false}}}},
{"data": {"name": "saline"}, "transform": [{"filter": "datum.panel == 'F'"}], "mark": {"type": "tick", "color": "#888", "thickness": 1.5, "size": 20}, "encoding": {"x": {"field": "group", "type": "nominal", "scale": {"domain": ["Saline", "Vehicle", "IL-1ra"], "paddingInner": 0.33, "paddingOuter": 0.16}}, "y": {"field": "bottom", "type": "quantitative", "scale": {"domain": [0, 8], "nice": false}}}},
{"data": {"name": "saline"}, "transform": [{"filter": "datum.panel == 'F'"}], "mark": {"type": "rule", "color": "#888", "strokeWidth": 1.5}, "encoding": {"x": {"field": "group", "type": "nominal", "bandPosition": 1, "scale": {"domain": ["Saline", "Vehicle", "IL-1ra"], "paddingInner": 0.33, "paddingOuter": 0.16}}, "y": {"field": "top", "type": "quantitative", "scale": {"domain": [0, 8], "nice": false}}, "y2": {"field": "bottom"}}}
]}
]}
]}
]
}
